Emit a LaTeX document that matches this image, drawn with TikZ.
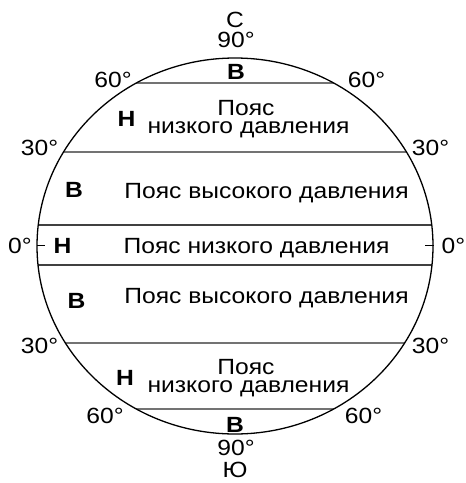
\documentclass[tikz,border=0pt]{standalone}
\usepackage{fontspec}
\setmainfont{Liberation Sans}[FakeStretch=1.12]
\usetikzlibrary{shapes.geometric}
\begin{document}
\begin{tikzpicture}[x=1pt,y=-1pt,
  lbl/.style={inner sep=0pt,anchor=base,font=\fontsize{22}{24}\selectfont},
  let/.style={inner sep=0pt,anchor=base,font=\fontsize{22}{24}\selectfont\bfseries},
  band/.style={draw=black!55,line width=1.6pt},
  eq/.style={draw=black!75,line width=1.8pt}]
\useasboundingbox (0,0) rectangle (466,483);
\begin{scope}
\clip (235,246) ellipse [x radius=198, y radius=188];
\draw[band] (30,83) -- (440,83);
\draw[band] (30,152) -- (440,152);
\draw[eq] (30,225) -- (440,225);
\draw[eq] (30,265) -- (440,265);
\draw[band] (30,343) -- (440,343);
\draw[band] (30,409) -- (440,409);
\end{scope}
\node[draw,line width=1.3pt,ellipse,minimum width=396pt,minimum height=376pt,inner sep=0pt] (globe) at (235,246) {};
\coordinate (tl1) at (37,245);
\coordinate (tl2) at (45,245);
\coordinate (tr1) at (425,245);
\coordinate (tr2) at (434,245);
\draw[line width=0.8pt] (tl1) -- (tl2);
\draw[line width=0.8pt] (tr1) -- (tr2);
\node[lbl] (n) at (235,27) {С};
\node[lbl] (d90t) at (236,47) {90°};
\node[let] (b1) at (236,79.5) {В};
\node[lbl] (d60tl) at (113,87) {60°};
\node[lbl] (d60tr) at (366.5,87) {60°};
\node[let] (h1) at (126.5,126) {Н};
\node[lbl] (p1a) at (246,115) {Пояс};
\node[lbl] (p1b) at (248.5,133) {низкого давления};
\node[lbl] (d30tl) at (39.5,155) {30°};
\node[lbl] (d30tr) at (430.5,155) {30°};
\node[let] (b2) at (74,197) {В};
\node[lbl] (p2) at (266.5,198) {Пояс высокого давления};
\node[lbl] (d0l) at (20,253) {0°};
\node[let] (h2) at (62.5,253) {Н};
\node[lbl] (p3) at (256.5,253) {Пояс низкого давления};
\node[lbl] (d0r) at (453.5,253) {0°};
\node[let] (b3) at (76.5,308) {В};
\node[lbl] (p4) at (266.5,303) {Пояс высокого давления};
\node[lbl] (d30bl) at (39.5,353) {30°};
\node[lbl] (d30br) at (430.5,353) {30°};
\node[let] (h3) at (125,385) {Н};
\node[lbl] (p5a) at (246,374.5) {Пояс};
\node[lbl] (p5b) at (248.5,392.5) {низкого давления};
\node[lbl] (d60bl) at (105,423) {60°};
\node[lbl] (d60br) at (363.5,423) {60°};
\node[let] (b4) at (235,432) {В};
\node[lbl] (d90b) at (236,455) {90°};
\node[lbl] (s) at (235,477) {Ю};
\end{tikzpicture}
\end{document}
